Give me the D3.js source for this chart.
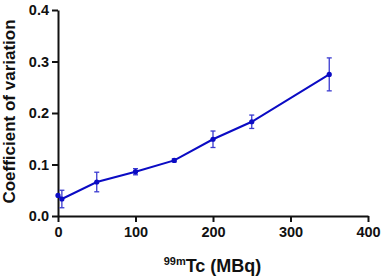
<!DOCTYPE html>
<html lang="en">
<head>
    <meta charset="UTF-8">
    <title>Coefficient of variation vs activity</title>
    <script src="https://d3js.org/d3.v7.min.js"></script>
    <style>
        body { margin: 0; background: #fff; font-family: "Liberation Sans", Arial, sans-serif; }
        .axis text { font-size: 14.5px; font-weight: bold; fill: #111; font-family: "Liberation Sans", Arial, sans-serif; }
        .axis path, .axis line { stroke: #111; stroke-width: 2px; }
    </style>
</head>
<body>
    <div id="chart"></div>
    <script>
        // values
        const activity = [0, 5, 50, 100, 150, 200, 250, 350];
        const cv       = [0.040, 0.033, 0.066, 0.086, 0.108, 0.149, 0.183, 0.275];
        const cvErr    = [0, 0.017, 0.019, 0.006, 0.003, 0.016, 0.013, 0.032];
        const xTicks = [0, 100, 200, 300, 400];
        const yTicks = [0.0, 0.1, 0.2, 0.3, 0.4];

        const margin = { top: 10, right: 15, bottom: 60, left: 58 };
        const width = 383 - margin.left - margin.right;
        const height = 276 - margin.top - margin.bottom;

        const svg = d3.select("#chart")
            .append("svg")
            .attr("width", 383)
            .attr("height", 276)
            .append("g")
            .attr("transform", `translate(${margin.left}, ${margin.top})`);

        const x = d3.scaleLinear().domain([0, 400]).range([0, 310]);
        const y = d3.scaleLinear().domain([0, 0.4]).range([height, 0]);

        svg.append("g")
            .attr("class", "axis")
            .attr("transform", `translate(0, ${height})`)
            .call(d3.axisBottom(x).tickValues(xTicks).tickSize(6).tickSizeOuter(0).tickPadding(5));

        svg.append("g")
            .attr("class", "axis")
            .call(d3.axisLeft(y).tickValues(yTicks).tickFormat(d3.format(".1f")).tickSize(6).tickSizeOuter(0).tickPadding(3));

        svg.append("text")
            .attr("transform", "rotate(-90)")
            .attr("x", -101.5)
            .attr("y", -43)
            .attr("text-anchor", "middle")
            .style("font-size", "17px")
            .style("font-weight", "bold")
            .style("fill", "#111")
            .text("Coefficient of variation");

        const xl = svg.append("text")
            .attr("x", 154.5)
            .attr("y", height + 56)
            .attr("text-anchor", "middle")
            .style("font-weight", "bold")
            .style("fill", "#111");
        xl.append("tspan").attr("dy", "-7").style("font-size", "11px").text("99m");
        xl.append("tspan").attr("dy", "7").style("font-size", "18px").text("Tc (MBq)");

        const pts = activity.map((a, i) => ({ a: a, v: cv[i], e: cvErr[i] }));

        // error bars
        const eb = svg.selectAll(".err")
            .data(pts.filter(d => d.e > 0))
            .enter().append("g")
            .attr("class", "err")
            .style("stroke", "#3a3ad0")
            .style("stroke-width", 1.3);
        eb.append("line")
            .attr("x1", d => x(d.a)).attr("x2", d => x(d.a))
            .attr("y1", d => y(d.v - d.e)).attr("y2", d => y(d.v + d.e));
        eb.append("line")
            .attr("x1", d => x(d.a) - 2.5).attr("x2", d => x(d.a) + 2.5)
            .attr("y1", d => y(d.v + d.e)).attr("y2", d => y(d.v + d.e));
        eb.append("line")
            .attr("x1", d => x(d.a) - 2.5).attr("x2", d => x(d.a) + 2.5)
            .attr("y1", d => y(d.v - d.e)).attr("y2", d => y(d.v - d.e));

        svg.append("path")
            .datum(pts)
            .attr("fill", "none")
            .attr("stroke", "#0b0bc4")
            .attr("stroke-width", 2)
            .attr("d", d3.line().x(d => x(d.a)).y(d => y(d.v)));

        svg.selectAll(".dot")
            .data(pts)
            .enter().append("circle")
            .attr("class", "dot")
            .attr("cx", d => x(d.a))
            .attr("cy", d => y(d.v))
            .attr("r", 2.6)
            .attr("fill", "#0b0bc4");
    </script>
</body>
</html>
